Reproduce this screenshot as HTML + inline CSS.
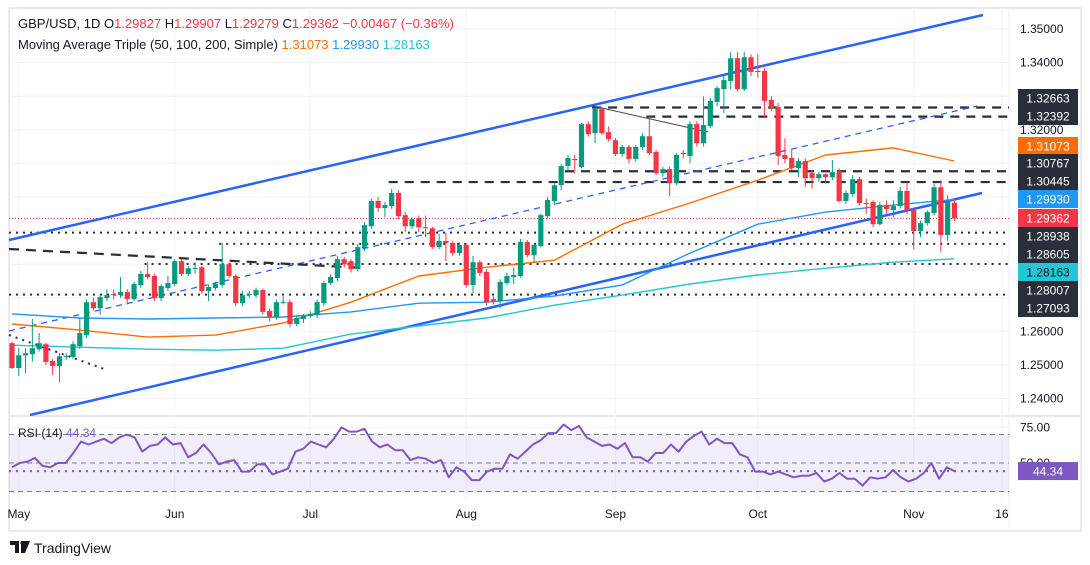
<!DOCTYPE html>
<html><head><meta charset="utf-8"><style>
html,body{margin:0;padding:0;background:#fff;}
svg{display:block;font-family:"Liberation Sans",sans-serif;}
</style></head><body>
<svg id="c" width="1090" height="565" viewBox="0 0 1090 565" xmlns="http://www.w3.org/2000/svg">
<rect x="0" y="0" width="1090" height="565" fill="#fff"/>
<rect x="9" y="8" width="1072" height="523" fill="none" stroke="#e0e3eb" stroke-width="1.5"/>
<line x1="9" y1="416" x2="1081" y2="416" stroke="#e0e3eb" stroke-width="1.5"/>
<line x1="1009" y1="8" x2="1009" y2="531" stroke="#eef0f4" stroke-width="1"/>
<g id="grid"></g>
<g id="levels"></g>
<g id="drawings"></g>
<g id="mas"></g>
<g id="candles"></g>
<g id="rsi"></g>
<g id="axis"></g>
<g id="tags"></g>
<text x="18" y="28" font-size="13" fill="#131722">GBP/USD, 1D  O<tspan fill="#f23645">1.29827</tspan>  H<tspan fill="#f23645">1.29907</tspan>  L<tspan fill="#f23645">1.29279</tspan>  C<tspan fill="#f23645">1.29362</tspan>  <tspan fill="#f23645">−0.00467 (−0.36%)</tspan></text>
<text x="18" y="49" font-size="13" fill="#131722">Moving Average Triple (50, 100, 200, Simple)  <tspan fill="#ff6d00">1.31073</tspan>  <tspan fill="#2196f3">1.29930</tspan>  <tspan fill="#22c6d6">1.28163</tspan></text>
<text x="18" y="437" font-size="12" fill="#131722">RSI (14) <tspan fill="#7e57c2">44.34</tspan></text>
<g>
<path d="M10 541 h9 v12 h-4 v-8 h-5z M21 541 h9 l-5 12 h-4z" fill="#131722"/>
<circle cx="22" cy="543" r="1.6" fill="#131722"/>
<text x="34" y="553" font-size="14" fill="#131722">TradingView</text>
</g>
</svg>
<script>
const opens=[1.2565,1.2491,1.2529,1.2532,1.2547,1.2562,1.2512,1.2497,1.2526,1.2524,1.2556,1.2589,1.2687,1.2669,1.2699,1.2711,1.2708,1.2717,1.2696,1.2738,1.2771,1.2765,1.2699,1.2729,1.2741,1.2809,1.2771,1.2788,1.2791,1.2720,1.2729,1.2738,1.2800,1.2765,1.2684,1.2708,1.2708,1.2723,1.2661,1.2643,1.2687,1.2687,1.2622,1.2637,1.2646,1.2649,1.2684,1.2744,1.2759,1.2815,1.2809,1.2785,1.2848,1.2913,1.2988,1.2967,1.2973,1.3012,1.2946,1.2913,1.2937,1.2910,1.2907,1.2851,1.2869,1.2863,1.2833,1.2857,1.2738,1.2806,1.2777,1.2696,1.2690,1.2744,1.2762,1.2765,1.2866,1.2827,1.2854,1.2943,1.2988,1.3035,1.3092,1.3113,1.3089,1.3217,1.3190,1.3262,1.3193,1.3169,1.3128,1.3149,1.3113,1.3149,1.3181,1.3134,1.3071,1.3083,1.3041,1.3131,1.3122,1.3217,1.3160,1.3211,1.3283,1.3321,1.3345,1.3413,1.3321,1.3416,1.3375,1.3375,1.3289,1.3268,1.3125,1.3116,1.3086,1.3107,1.3071,1.3056,1.3068,1.3059,1.3077,1.2988,1.3009,1.3053,1.2982,1.2985,1.2919,1.2976,1.2961,1.2973,1.3018,1.2961,1.2899,1.2922,1.2952,1.3029,1.2887,1.2983];
const closes=[1.2491,1.2529,1.2535,1.2550,1.2565,1.2509,1.2497,1.2526,1.2527,1.2562,1.2595,1.2687,1.2669,1.2702,1.2708,1.2710,1.2717,1.2696,1.2741,1.2771,1.2762,1.2699,1.2735,1.2744,1.2809,1.2771,1.2788,1.2789,1.2720,1.2732,1.2741,1.2800,1.2765,1.2684,1.2708,1.2711,1.2723,1.2658,1.2643,1.2687,1.2688,1.2622,1.2640,1.2646,1.2652,1.2687,1.2744,1.2762,1.2815,1.2800,1.2785,1.2851,1.2916,1.2988,1.2967,1.2976,1.3012,1.2943,1.2913,1.2934,1.2910,1.2909,1.2851,1.2869,1.2863,1.2833,1.2857,1.2738,1.2806,1.2774,1.2687,1.2690,1.2747,1.2765,1.2768,1.2866,1.2827,1.2857,1.2946,1.2991,1.3035,1.3092,1.3116,1.3110,1.3217,1.3187,1.3262,1.3190,1.3172,1.3128,1.3149,1.3113,1.3149,1.3181,1.3131,1.3071,1.3083,1.3041,1.3125,1.3128,1.3217,1.3160,1.3214,1.3286,1.3324,1.3348,1.3413,1.3321,1.3416,1.3372,1.3374,1.3286,1.3265,1.3122,1.3113,1.3086,1.3107,1.3056,1.3056,1.3068,1.3059,1.3074,1.2988,1.3012,1.3053,1.2982,1.2981,1.2919,1.2976,1.2964,1.2973,1.3018,1.2961,1.2899,1.2922,1.2955,1.3029,1.2887,1.2985,1.2936];
const highs=[1.2570,1.2551,1.2550,1.2637,1.2595,1.2566,1.2518,1.2535,1.2535,1.2570,1.2640,1.2695,1.2700,1.2710,1.2725,1.2725,1.2762,1.2725,1.2748,1.2780,1.2806,1.2772,1.2740,1.2765,1.2815,1.2815,1.2795,1.2805,1.2795,1.2740,1.2748,1.2863,1.2805,1.2770,1.2720,1.2720,1.2730,1.2728,1.2668,1.2695,1.2705,1.2695,1.2648,1.2652,1.2660,1.2695,1.2750,1.2770,1.2825,1.2822,1.2815,1.2860,1.2925,1.2995,1.3000,1.2985,1.3024,1.3020,1.2955,1.2940,1.2945,1.2945,1.2912,1.2890,1.2893,1.2870,1.2865,1.2862,1.2825,1.2812,1.2785,1.2705,1.2755,1.2775,1.2790,1.2875,1.2872,1.2860,1.2950,1.3000,1.3040,1.3098,1.3125,1.3125,1.3220,1.3225,1.3266,1.3268,1.3210,1.3175,1.3155,1.3155,1.3155,1.3190,1.3244,1.3140,1.3090,1.3090,1.3130,1.3140,1.3225,1.3225,1.3300,1.3295,1.3330,1.3365,1.3431,1.3431,1.3431,1.3425,1.3425,1.3385,1.3300,1.3280,1.3175,1.3140,1.3115,1.3115,1.3080,1.3075,1.3070,1.3110,1.3085,1.3020,1.3065,1.3060,1.2995,1.2990,1.2985,1.2990,1.2990,1.3030,1.3044,1.2968,1.2930,1.2960,1.3040,1.3050,1.3005,1.2991];
const lows=[1.2488,1.2467,1.2475,1.2510,1.2540,1.2500,1.2470,1.2449,1.2515,1.2518,1.2548,1.2580,1.2662,1.2650,1.2690,1.2695,1.2700,1.2680,1.2690,1.2730,1.2755,1.2690,1.2690,1.2720,1.2735,1.2765,1.2765,1.2772,1.2712,1.2690,1.2722,1.2730,1.2760,1.2675,1.2675,1.2700,1.2700,1.2650,1.2630,1.2635,1.2680,1.2612,1.2615,1.2625,1.2640,1.2640,1.2675,1.2738,1.2750,1.2790,1.2775,1.2778,1.2840,1.2905,1.2955,1.2940,1.2965,1.2935,1.2895,1.2905,1.2895,1.2880,1.2845,1.2845,1.2809,1.2825,1.2825,1.2730,1.2714,1.2765,1.2678,1.2680,1.2669,1.2738,1.2740,1.2760,1.2820,1.2805,1.2850,1.2935,1.2975,1.3020,1.3080,1.3070,1.3085,1.3180,1.3160,1.3185,1.3165,1.3122,1.3120,1.3100,1.3105,1.3140,1.3125,1.3065,1.3060,1.3003,1.3035,1.3115,1.3100,1.3150,1.3150,1.3205,1.3270,1.3250,1.3320,1.3315,1.3315,1.3360,1.3355,1.3238,1.3255,1.3095,1.3100,1.3080,1.3060,1.3030,1.3025,1.3045,1.3040,1.3050,1.2985,1.2980,1.3000,1.2975,1.2950,1.2910,1.2915,1.2950,1.2940,1.2965,1.2950,1.2845,1.2880,1.2915,1.2945,1.2836,1.2870,1.2928];
const maIdx=[0,10,20,30,40,50,60,70,80,90,100,110,120,130,139];
const ma50=[1.2622,1.2604,1.2583,1.2589,1.2625,1.2687,1.2765,1.2791,1.2812,1.2919,1.2982,1.3050,1.3125,1.3146,1.3107];
const ma100=[1.2652,1.2640,1.2637,1.2640,1.2643,1.2658,1.2684,1.2687,1.2705,1.2738,1.2833,1.2919,1.2955,1.2976,1.2993];
const ma200=[1.2559,1.2553,1.2547,1.2544,1.2550,1.2592,1.2616,1.2640,1.2678,1.2708,1.2741,1.2768,1.2788,1.2806,1.2816];
const rsiVals=[47,50,51,53.5,48,47,50,50,57,65,63,65,67,64,68,70,68,58,62,63,68,63,64,54,57,63,57,49,51,52,44,44,49,49,42,44,46,58,60,65,63,61,67,75,72,72,74,65,61,63,59,59,52,54,53,50,52,40,47,44,38,38,44,46,46,56,53,58,63,66,71,71,77,73,76,68,65,62,63,60,64,54,54,51,57,57,63,58,65,69,72,63,67,64,64,56,54,44,44,42,44,42,40,41,41,43,37,39,43,39,39,34,40,39,40,45,40,37,39,43,50,39,47,44.34];
const priceTicks=[1.35,1.34,1.33,1.32,1.31,1.30,1.29,1.28,1.27,1.26,1.25,1.24];
const priceTickLabels=["1.35000","1.34000","1.33000","1.32000","1.31000","1.30000","1.29000","1.28000","1.27000","1.26000","1.25000","1.24000"];
const monthLabels=["May","Jun","Jul","Aug","Sep","Oct","Nov","16"];
const monthBars=[1,24,44,67,89,110,133,146];
const levels=[1.32663,1.32392,1.30767,1.30445,1.28938,1.28605,1.28007,1.27093];
const levelStartBar=[86,94,82,56,0,31,20,0];
const levelDashed=[true,true,true,true,false,false,false,false];

const NS="http://www.w3.org/2000/svg";
const X=i=>12+i*6.78;
const Y=p=>29+(1.35-p)*3360;
const RY=r=>463-(r-50)*1.425;
function mk(tag,attrs,parent){const e=document.createElementNS(NS,tag);for(const k in attrs)e.setAttribute(k,attrs[k]);parent.appendChild(e);return e;}
const g=id=>document.getElementById(id);

priceTicks.forEach((p,i)=>{
  const l=mk('line',{x1:9,x2:1009,y1:Y(p),y2:Y(p),stroke:'#f0f3fa','stroke-width':1},g('grid'));
  
  
});
monthBars.forEach((b,i)=>{
  const l=mk('line',{x1:X(b),x2:X(b),y1:8,y2:500,stroke:'#f0f3fa','stroke-width':1},g('grid'));
  
  
});
mk('line',{x1:9,x2:1009,y1:RY(75),y2:RY(75),stroke:'#f0f3fa'},g('grid'));

priceTicks.forEach((p,i)=>{
  const t=mk('text',{x:1020,y:Y(p)+4,'font-size':12,fill:'#131722'},g('axis'));
  t.textContent=priceTickLabels[i];
  
  
});
monthLabels.forEach((m,i)=>{
  const t=mk('text',{x:X(monthBars[i]),y:518,'font-size':12,fill:'#131722','text-anchor':'middle'},g('axis'));
  t.textContent=m;
  
  
});
const rt=mk('text',{x:1020,y:RY(75)+4,'font-size':12,fill:'#131722'},g('axis'));rt.textContent='75.00';


const rt2=mk('text',{x:1020,y:RY(50)+4,'font-size':12,fill:'#131722'},g('axis'));rt2.textContent='50.00';



levels.forEach((p,i)=>{
  const l=mk('line',{x1:Math.max(9,X(levelStartBar[i])-3),x2:1009,y1:Y(p),y2:Y(p),stroke:'#2a2e39','stroke-width':levelDashed[i]?2.2:2,'stroke-dasharray':levelDashed[i]?'9 7':'2 5'},g('levels'));
  
  
});
const cl=mk('line',{x1:9,x2:1009,y1:Y(closes[closes.length-1]),y2:Y(closes[closes.length-1]),stroke:'#f23645','stroke-width':1,'stroke-dasharray':'1 2'},g('levels'));



const D=g('drawings');
function tl(x1,y1,x2,y2,st,name){const l=mk('line',Object.assign({x1,y1,x2,y2},st),D);}
tl(9,240,983,15,{stroke:'#2962ff','stroke-width':2.5},'upper-channel-line');
tl(30,415,982,193,{stroke:'#2962ff','stroke-width':2.5},'lower-channel-line');
tl(9,331,977,106,{stroke:'#2962ff','stroke-width':1.3,'stroke-dasharray':'6 5'},'channel-midline');
tl(9,249,365,268,{stroke:'#2a2e39','stroke-width':2.2,'stroke-dasharray':'10 7'},'descending-dashed-trendline');
tl(9,335,107,370,{stroke:'#2a2e39','stroke-width':2,'stroke-dasharray':'2 5'},'descending-dotted-trendline');
tl(593,106,708,132,{stroke:'#434651','stroke-width':1},'connector-line');

function maLine(arr,color,name){
  const d=arr.map((v,k)=>(k?'L':'M')+X(maIdx[k]).toFixed(1)+' '+Y(v).toFixed(1)).join(' ');
  const p=mk('path',{d,fill:'none',stroke:color,'stroke-width':1.4,'stroke-linejoin':'round'},g('mas'));
  
  
}
maLine(ma200,'#22c6d6','ma200-line');
maLine(ma100,'#2196f3','ma100-line');
maLine(ma50,'#ff6d00','ma50-line');

closes.forEach((c,i)=>{
  const o=opens[i],up=c>=o,col=up?'#089981':'#f23645',x=X(i);
  const w=mk('line',{x1:x,x2:x,y1:Y(highs[i]),y2:Y(lows[i]),stroke:col,'stroke-width':1},g('candles'));
  
  
  const top=Y(Math.max(o,c)),h=Math.max(1,Math.abs(Y(o)-Y(c)));
  const b=mk('rect',{x:x-2.6,y:top,width:5.2,height:h,fill:col},g('candles'));
  
  
});

const R=g('rsi');
const band=mk('rect',{x:9,y:RY(70),width:1000,height:RY(30)-RY(70),fill:'#7e57c2','fill-opacity':0.1},R);


[70,50,30].forEach(v=>{
  const l=mk('line',{x1:9,x2:1009,y1:RY(v),y2:RY(v),stroke:'#787b86','stroke-width':1,'stroke-dasharray':'5 4'},R);
  
  
});
const last=rsiVals[rsiVals.length-1];
const rl=mk('line',{x1:9,x2:1009,y1:RY(last),y2:RY(last),stroke:'#7e57c2','stroke-width':2,'stroke-dasharray':'2 5'},R);


const n=rsiVals.length;
const rd=rsiVals.map((v,k)=>(k?'L':'M')+X(k*(closes.length-1)/(n-1)).toFixed(1)+' '+RY(v).toFixed(1)).join(' ');
const rp=mk('path',{d:rd,fill:'none',stroke:'#7e57c2','stroke-width':2,'stroke-linejoin':'round'},R);



const T=g('tags');
const tagVals=[1.32663,1.32392,1.31073,1.30767,1.30445,1.29930,1.29362,1.28938,1.28605,1.28163,1.28007,1.27093];
const tagCols=['#2a2e39','#2a2e39','#ff6d00','#2a2e39','#2a2e39','#2196f3','#f23645','#2a2e39','#2a2e39','#22c6d6','#2a2e39','#2a2e39'];
const tagY=[98,116,146,163,181,199,218,236,254,272,290,308];
tagVals.forEach((v,i)=>{
  const r=mk('rect',{x:1018,y:tagY[i]-9,width:60,height:18,fill:tagCols[i]},T);
  
  
  const t=mk('text',{x:1048,y:tagY[i]+4.5,'font-size':12,fill:tagCols[i]==='#22c6d6'?'#131722':'#fff','text-anchor':'middle'},T);
  t.textContent=v.toFixed(5);
  
  
});
const rr=mk('rect',{x:1018,y:RY(last)-9,width:60,height:18,fill:'#7e57c2'},T);


const rtx=mk('text',{x:1048,y:RY(last)+4.5,'font-size':12,fill:'#fff','text-anchor':'middle'},T);
rtx.textContent=last.toFixed(2);


</script>
</body></html>
